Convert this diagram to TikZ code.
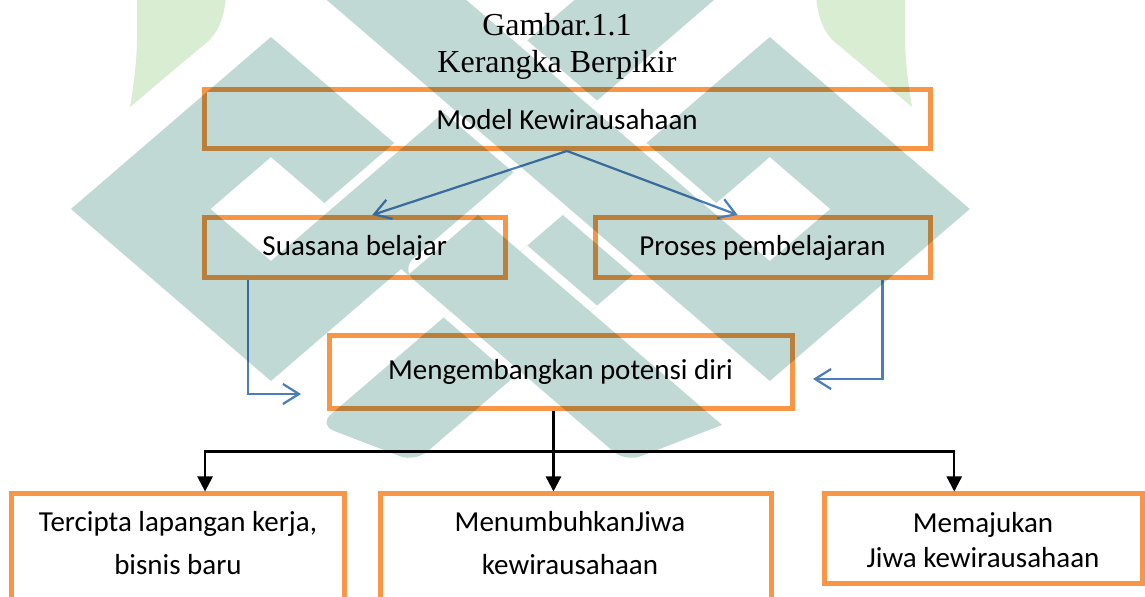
\documentclass[tikz,border=0pt]{standalone}
\usepackage{fontspec}
\setmainfont{Carlito}
\newfontfamily\titlefont{Liberation Serif}
\usetikzlibrary{arrows.meta, calc}

\definecolor{frameorange}{RGB}{247,150,70}
\definecolor{flowblue}{RGB}{74,126,187}
\definecolor{markteal}{RGB}{193,217,213}
\definecolor{markgreen}{RGB}{217,237,211}

\begin{document}
\begin{tikzpicture}[
    x=0.5pt, y=-0.5pt,
    frame_style/.style={draw=frameorange, line width=2.5pt, inner sep=0pt, font=\fontsize{14.5}{17.5}\selectfont},
    two_line_style/.style={font=\fontsize{14.5}{21.7}\selectfont, align=center, anchor=base, inner sep=0pt},
    title_style/.style={font=\titlefont\fontsize{16}{18.4}\selectfont, anchor=base, inner sep=0pt},
    flow_arrow/.style={draw=flowblue, line width=1.1pt, -{Straight Barb[length=8pt, width=10pt]}},
    branch_arrow/.style={draw=black, line width=1.15pt, -{Triangle[length=7.5pt, width=7.5pt]}},
    mark_style/.style={blend mode=multiply},
    diag_grid/.style={cm={0.5814,-0.5,0.5814,0.5,(0,0)}}
]
\useasboundingbox (0,0) rectangle (1145,597);
\clip (0,0) rectangle (1145,597);
\fill[white] (0,0) rectangle (1145,597);

% Title
\node[title_style] (fig) at (557,36) {Gambar.1.1};
\node[title_style] (title) at (557,72.7) {Kerangka Berpikir};

% Row 1 - model
\node[frame_style, minimum width=363pt, minimum height=29.25pt] (model) at (567,119.25) {Model Kewirausahaan};

% Row 2 - suasana and proses
\node[frame_style, minimum width=150.75pt, minimum height=30pt] (suasana) at (354.75,247.5) {Suasana belajar};
\node[frame_style, minimum width=167.5pt, minimum height=30pt] (proses) at (762.5,247.5) {Proses pembelajaran};

% Row 3 - potensi
\node[frame_style, minimum width=231.5pt, minimum height=36.75pt] (potensi) at (560.5,372.25) {Mengembangkan potensi diri};

% Row 4 - results (first two run past the page)
\node[frame_style, minimum width=166.65pt, minimum height=73pt] (kerja) at (178,567) {};
\node[frame_style, minimum width=195.75pt, minimum height=73pt] (jiwa) at (575.75,567) {};
\node[frame_style, minimum width=159pt, minimum height=45pt] (maju) at (983,539) {};
% texts sit on the baseline of their last line
\node[two_line_style] (kerja_text) at (178,575) {Tercipta lapangan kerja,\\ bisnis baru};
\node[two_line_style] (jiwa_text) at (570,575) {MenumbuhkanJiwa\\ kewirausahaan};
\node[two_line_style, font=\fontsize{14.5}{17.5}\selectfont] (maju_text) at (983,568) {Memajukan\\ Jiwa kewirausahaan};

% Blue arrows
\coordinate (s_in) at ($(suasana.north west)!0.557!(suasana.north east)$);
\coordinate (p_in) at ($(proses.north west)!0.427!(proses.north east)$);
\draw[flow_arrow] (model.south) -- (s_in);
\draw[flow_arrow] (model.south) -- (p_in);

\coordinate (s_out) at ($(suasana.south west)!0.153!(suasana.south east)$);
\coordinate (s_end) at (301,394);
\draw[flow_arrow] (s_out) |- (s_end);
\coordinate (p_out) at ($(proses.south west)!0.853!(proses.south east)$);
\coordinate (p_end) at (813,379);
\draw[flow_arrow] (p_out) |- (p_end);

% Black branches
\coordinate (pot_bot) at ($(potensi.south west)!0.485!(potensi.south east)$);
\coordinate (hub) at ([yshift=-20pt]pot_bot);
\draw[branch_arrow] (pot_bot) -- (pot_bot |- jiwa.north);
\draw[branch_arrow] (hub) -| ($(kerja.north west)!0.58!(kerja.north east)$);
\draw[branch_arrow] (hub) -| ($(maju.north west)!0.411!(maju.north east)$);

% Watermark on top (bands drawn on the diagonal grid)
\begin{scope}[mark_style]
    \begin{scope}[diag_grid]
        \fill[markteal]
            % left and right rings
            (270,148) -- (270,-196) -- (614,-196) -- (614,148) -- cycle
            (390,28) -- (494,28) -- (494,-76) -- (390,-76) -- cycle
            (699,-281) -- (699,-625) -- (1043,-625) -- (1043,-281) -- cycle
            (819,-401) -- (923,-401) -- (923,-505) -- (819,-505) -- cycle
            % long bands
            (494,-196) -- (494,-800) -- (614,-800) -- (614,-196) -- cycle
            (100,-281) -- (100,-401) -- (699,-401) -- (699,-281) -- cycle
            (1046,-196) [rounded corners=8pt] -- (1000,-76) -- (614,-76) [sharp corners] -- (614,-196) -- cycle
            (819,-281) [rounded corners=8pt] -- (819,105) -- (699,151) [sharp corners] -- (699,-281) -- cycle
            % gaps where one band passes over another
            (482,-76) -- (494,-76) -- (494,-196) -- (482,-196) -- cycle
            (614,-76) -- (626,-76) -- (626,-196) -- (614,-196) -- cycle
            (699,-401) -- (819,-401) -- (819,-413) -- (699,-413) -- cycle
            (699,-269) -- (819,-269) -- (819,-281) -- (699,-281) -- cycle
            (699,-196) -- (819,-196) -- (819,-208) -- (699,-208) -- cycle
            (699,-64) -- (819,-64) -- (819,-76) -- (699,-76) -- cycle
            (494,-401) -- (614,-401) -- (614,-413) -- (494,-413) -- cycle
            (494,-269) -- (614,-269) -- (614,-281) -- (494,-281) -- cycle;
    \end{scope}
    \fill[markgreen] (137,-5) -- (226,-5) .. controls (224,25) and (214,38) .. (200,48) -- (130,107) .. controls (133,90) and (137,60) .. (137,40) -- cycle;
    \fill[markgreen] (905,-5) -- (816,-5) .. controls (818,25) and (828,38) .. (842,48) -- (912,107) .. controls (909,90) and (905,60) .. (905,40) -- cycle;
\end{scope}

\end{tikzpicture}
\end{document}
